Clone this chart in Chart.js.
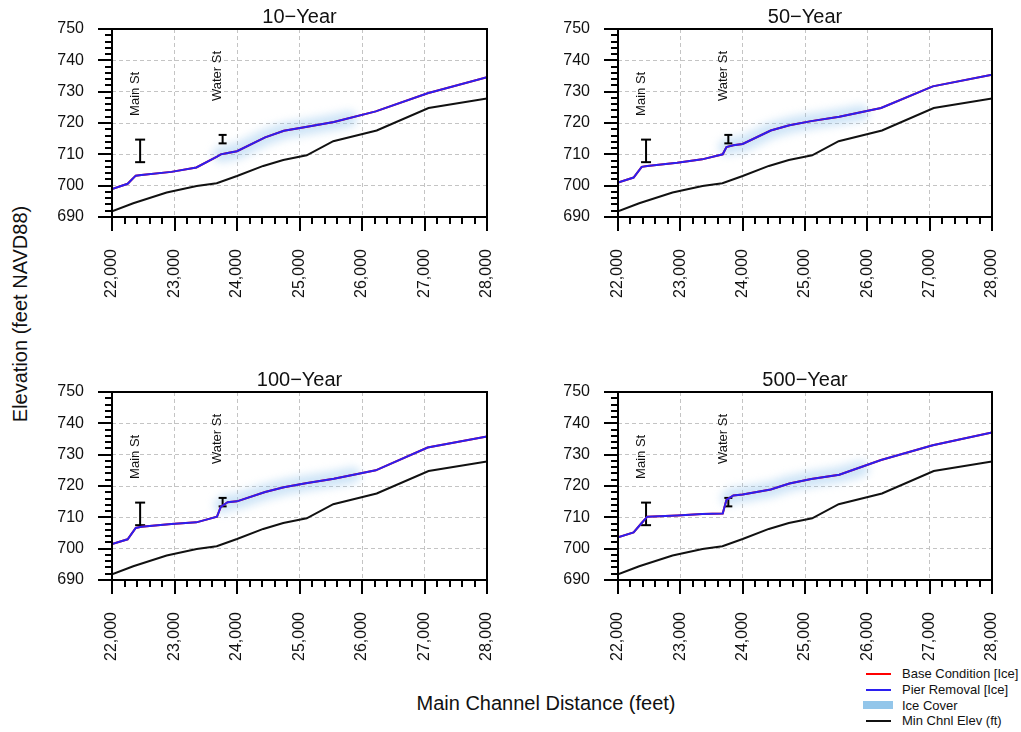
<!DOCTYPE html>
<html lang="en">
<head>
<meta charset="UTF-8">
<title>Water Surface Profiles</title>
<script src="https://cdn.jsdelivr.net/npm/chart.js"></script>
<style>
  body {
    margin: 0;
    background: #fff;
    font-family: 'Liberation Sans', Arial, sans-serif;
    color: #111;
  }
  #page {
    position: relative;
    width: 1021px;
    height: 732px;
    overflow: hidden;
  }
  .panel { position: absolute; }
  #yTitle {
    position: absolute;
    left: 20px;
    top: 314px;
    transform: translate(-50%, -50%) rotate(-90deg);
    font-size: 20px;
    white-space: nowrap;
  }
  #xTitle {
    position: absolute;
    left: 546px;
    top: 703px;
    transform: translate(-50%, -50%);
    font-size: 20px;
    white-space: nowrap;
  }
  #legend {
    position: absolute;
    left: 863px;
    top: 666px;
    font-size: 13px;
  }
  #legend .row {
    height: 15.7px;
    display: flex;
    align-items: center;
    white-space: nowrap;
  }
  #legend .sw {
    width: 30px;
    margin-right: 9px;
    display: flex;
    justify-content: center;
  }
  #legend .sw span { display: block; width: 25px; height: 2px; }
  #legend .sw span.ice { width: 30px; height: 8px; }
</style>
</head>
<body>
<div id="page">
  <canvas class="panel" id="p10" width="457" height="300" style="left:40px;top:0px"></canvas>
  <canvas class="panel" id="p50" width="456" height="300" style="left:546px;top:0px"></canvas>
  <canvas class="panel" id="p100" width="457" height="300" style="left:40px;top:363px"></canvas>
  <canvas class="panel" id="p500" width="456" height="300" style="left:546px;top:363px"></canvas>

  <div id="yTitle">Elevation (feet NAVD88)</div>
  <div id="xTitle">Main Channel Distance (feet)</div>

  <div id="legend">
    <div class="row"><div class="sw"><span style="background:#ff0000"></span></div>Base Condition [Ice]</div>
    <div class="row"><div class="sw"><span style="background:#2b1ff0"></span></div>Pier Removal [Ice]</div>
    <div class="row"><div class="sw"><span class="ice" style="background:#93c6ea"></span></div>Ice Cover</div>
    <div class="row"><div class="sw"><span style="background:#111"></span></div>Min Chnl Elev (ft)</div>
  </div>
</div>

<script>
  // water surface stations (ft) and elevations for each event
  const stations = [22000, 22250, 22380, 22470, 22950, 23350, 23680, 23740, 23850, 24000, 24450, 24750, 25100, 25550, 26220, 27050, 28000];
  const ws10  = [698.9, 700.6, 703.2, 703.4, 704.4, 705.8, 709.3, 710.0, 710.4, 711.0, 715.4, 717.5, 718.7, 720.3, 723.7, 729.5, 734.6];
  const ws50  = [701.0, 702.6, 706.0, 706.3, 707.3, 708.4, 710.0, 712.3, 712.9, 713.3, 717.6, 719.3, 720.6, 722.0, 724.8, 731.7, 735.4];
  const ws100 = [701.5, 703.0, 706.6, 707.0, 707.9, 708.4, 710.2, 713.3, 714.8, 715.1, 718.1, 719.6, 720.9, 722.3, 725.0, 732.3, 735.8];
  const ws500 = [703.6, 705.2, 708.2, 710.2, 710.6, 711.1, 711.2, 715.6, 717.0, 717.3, 718.9, 720.8, 722.2, 723.6, 728.3, 733.0, 737.1];

  // ice cover extent along each profile
  const iceSta10  = [23740, 23850, 24000, 24450, 24750, 25100, 25550, 25800];
  const iceWs10   = [710.0, 710.4, 711.0, 715.4, 717.5, 718.7, 720.3, 721.3];
  const iceSta50  = [23740, 23850, 24000, 24450, 24750, 25100, 25550, 25900];
  const iceWs50   = [712.3, 712.9, 713.3, 717.6, 719.3, 720.6, 722.0, 723.2];
  const iceSta100 = [23760, 23850, 24000, 24450, 24750, 25100, 25550, 25850];
  const iceWs100  = [713.8, 714.8, 715.1, 718.1, 719.6, 720.9, 722.3, 723.5];
  const iceSta500 = [23780, 23850, 24000, 24450, 24750, 25100, 25550, 25900];
  const iceWs500  = [716.2, 717.0, 717.3, 718.9, 720.8, 722.2, 723.6, 725.5];

  // channel invert
  const bedSta  = [22000, 22340, 22875, 23355, 23675, 24000, 24420, 24740, 25115, 25540, 26235, 27065, 28000];
  const bedElev = [691.8, 694.4, 697.8, 699.9, 700.8, 703.1, 706.3, 708.2, 709.7, 714.2, 717.6, 724.8, 727.8];

  // bridges: low chord / top of road
  const bridgeNames = ['Main St', 'Water St'];
  const bridgeSta   = [22450, 23770];
  const lowChord    = [707.5, 713.5];
  const highChord   = [714.7, 716.2];

  const xTicks = { min: 22000, max: 28000, major: 1000, minor: 200 };
  const yTicks = { min: 690, max: 750, major: 10, minor: 2 };

  const FONT = "'Liberation Sans', Arial, sans-serif";

  const pts = (xs, ys) => xs.map((x, i) => ({ x: x, y: ys[i] }));

  // soft edge on the ice band
  const iceBlur = {
    id: 'iceBlur',
    beforeDatasetDraw(chart, args) {
      if (chart.data.datasets[args.index].label === 'Ice Cover') {
        chart.ctx.save();
        chart.ctx.filter = 'blur(4px)';
      }
    },
    afterDatasetDraw(chart, args) {
      if (chart.data.datasets[args.index].label === 'Ice Cover') chart.ctx.restore();
    }
  };

  // bridge names written sideways above the bars
  const bridgeLabels = {
    id: 'bridgeLabels',
    afterDatasetsDraw(chart) {
      const { ctx, scales: { x, y } } = chart;
      const labelElev = [729.3, 735.0];
      ctx.save();
      ctx.fillStyle = '#111';
      ctx.font = '13px ' + FONT;
      ctx.textAlign = 'center';
      ctx.textBaseline = 'middle';
      bridgeNames.forEach((name, i) => {
        ctx.save();
        ctx.translate(x.getPixelForValue(bridgeSta[i]) - 5, y.getPixelForValue(labelElev[i]));
        ctx.rotate(-Math.PI / 2);
        ctx.fillText(name, 0, 0);
        ctx.restore();
      });
      ctx.restore();
    }
  };

  // frame plus major/minor tick marks
  const axisMarks = {
    id: 'axisMarks',
    afterDraw(chart) {
      const { ctx, chartArea: a, scales: { x, y } } = chart;
      ctx.save();
      ctx.strokeStyle = '#000';
      ctx.lineWidth = 2;
      ctx.beginPath();
      for (let v = xTicks.min; v <= xTicks.max; v += xTicks.minor) {
        const px = Math.round(x.getPixelForValue(v));
        const len = v % xTicks.major === 0 ? 14 : 7;
        ctx.moveTo(px, a.bottom);
        ctx.lineTo(px, a.bottom + len);
      }
      for (let v = yTicks.min; v <= yTicks.max; v += yTicks.minor) {
        const py = Math.round(y.getPixelForValue(v));
        const len = v % yTicks.major === 0 ? 14 : 7;
        ctx.moveTo(a.left, py);
        ctx.lineTo(a.left - len, py);
      }
      ctx.stroke();
      ctx.strokeRect(a.left, a.top, a.right - a.left, a.bottom - a.top);
      ctx.restore();
    }
  };

  function bridgeBar(i, radius) {
    return {
      label: bridgeNames[i],
      data: [{ x: bridgeSta[i], y: lowChord[i] }, { x: bridgeSta[i], y: highChord[i] }],
      borderColor: '#000',
      borderWidth: 2,
      pointStyle: 'line',
      pointRadius: radius,
      pointBorderWidth: 2,
      pointBorderColor: '#000'
    };
  }

  function makePanel(id, title, ws, iceSta, iceWs) {
    const tickFont = { size: 16, family: FONT };
    new Chart(document.getElementById(id), {
      type: 'line',
      data: {
        datasets: [
          { label: 'Pier Removal [Ice]', data: pts(stations, ws), borderColor: '#2b1ff0', borderWidth: 2, pointRadius: 0 },
          { label: 'Base Condition [Ice]', data: pts(stations, ws), borderColor: '#ff0000', borderWidth: 2, pointRadius: 0 },
          bridgeBar(0, 5),
          bridgeBar(1, 4),
          { label: 'Min Chnl Elev (ft)', data: pts(bedSta, bedElev), borderColor: '#111', borderWidth: 2, pointRadius: 0 },
          { label: 'Ice Cover', data: pts(iceSta, iceWs), borderColor: 'rgba(140,192,236,0.42)', borderWidth: 16,
            borderCapStyle: 'round', borderJoinStyle: 'round', pointRadius: 0 }
        ]
      },
      options: {
        responsive: false,
        animation: false,
        devicePixelRatio: 1,
        layout: { padding: { right: 10 } },
        plugins: {
          legend: { display: false },
          tooltip: { enabled: false },
          title: {
            display: true,
            text: title,
            fullSize: false,
            color: '#111',
            font: { size: 20, weight: 'normal', family: FONT },
            padding: { top: 5, bottom: 0 }
          }
        },
        scales: {
          x: {
            type: 'linear',
            min: xTicks.min,
            max: xTicks.max,
            ticks: { stepSize: xTicks.major, minRotation: 90, maxRotation: 90, autoSkip: false, padding: 32, color: '#111', font: tickFont },
            grid: { color: '#c4c4c4', lineWidth: 1, drawTicks: false },
            border: { display: false, dash: [4, 3] },
            afterFit(s) { s.height = 83; s.paddingLeft = 0; s.paddingRight = 0; }
          },
          y: {
            min: yTicks.min,
            max: yTicks.max,
            ticks: { stepSize: yTicks.major, padding: 28, color: '#111', font: tickFont },
            grid: { color: '#c4c4c4', lineWidth: 1, drawTicks: false },
            border: { display: false, dash: [4, 3] },
            afterFit(s) { s.width = 72; s.paddingTop = 0; s.paddingBottom = 0; }
          }
        }
      },
      plugins: [iceBlur, bridgeLabels, axisMarks]
    });
  }

  makePanel('p10', '10\u2212Year', ws10, iceSta10, iceWs10);
  makePanel('p50', '50\u2212Year', ws50, iceSta50, iceWs50);
  makePanel('p100', '100\u2212Year', ws100, iceSta100, iceWs100);
  makePanel('p500', '500\u2212Year', ws500, iceSta500, iceWs500);
</script>
</body>
</html>
